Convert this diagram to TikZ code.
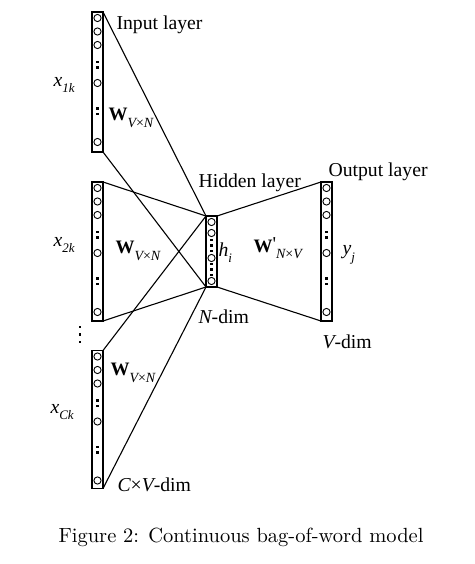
\documentclass[tikz,border=0pt]{standalone}
\usepackage{fontspec}
\newfontfamily\tnr{Liberation Serif}
\newfontfamily\capfont{lmroman10-regular}[Extension=.otf]
\newcommand\sbs[2][13]{\raisebox{-0.32em}{\fontsize{#1}{#1}\selectfont\itshape #2}}
\begin{document}
\begin{tikzpicture}[x=1pt,y=-1pt,line width=1.1pt,
  col/.style={draw,minimum width=11pt,inner sep=0pt,outer sep=0pt},
  lbl/.style={anchor=west,inner sep=0pt,font=\tnr\fontsize{19.7}{20}\selectfont},
  neuron/.style={line width=0.9pt}]
\useasboundingbox (0,0) rectangle (474,564);
% columns
\node[col,minimum height=140pt] (c1) at (97.5,82) {};
\node[col,minimum height=139pt] (c2) at (97.5,251.5) {};
\node[col,minimum height=138pt] (c3) at (97.5,419.5) {};
\node[col,minimum height=139pt] (out) at (326.5,251.5) {};
\node[col,minimum height=71pt] (h) at (211.5,251.5) {};
% neurons in long columns
\foreach \cx/\ty in {97.5/12,97.5/182,97.5/350.5,326.5/182}{
  \foreach \o in {6,19.5,33,71,130}{
    \draw[neuron] (\cx,\ty+\o) circle[radius=3.6];
  }
  \foreach \o in {50,55.5,96.5,102}{
    \fill (\cx-1.3,\ty+\o-1.3) rectangle (\cx+1.3,\ty+\o+1.3);
  }
}
% neurons in hidden column
\foreach \o in {222,233,258,281}{
  \draw[neuron] (211.5,\o) circle[radius=3.6];
}
\foreach \o in {240,245.5,251,264,269.5,275}{
  \fill (211.5-1.3,\o-1.3) rectangle (211.5+1.3,\o+1.3);
}
% vertical dots between inputs
\foreach \o in {327,334.5,342}{
  \fill (80-1.4,\o-1.4) rectangle (80+1.4,\o+1.4);
}
% connectors
\draw (c1.north east) -- (h.north west);
\draw (c1.south east) -- (h.south west);
\draw (c2.north east) -- (h.north west);
\draw (c2.south east) -- (h.south west);
\draw (c3.north east) -- (h.north west);
\draw (c3.south east) -- (h.south west);
\draw (h.north east) -- (out.north west);
\draw (h.south east) -- (out.south west);
% labels
\node[lbl] (tin) at (116,25) {Input layer};
\node[lbl] (thid) at (198,183) {Hidden layer};
\node[lbl] (tout) at (328,172) {Output layer};
\node[lbl] (x1) at (53,85) {\itshape x\sbs{1k}};
\node[lbl] (x2) at (53,245) {\itshape x\sbs{2k}};
\node[lbl] (x3) at (50,412) {\itshape x\sbs{Ck}};
\node[lbl] (w1) at (108,118) {{\fontsize{19}{19}\selectfont\bfseries W}\sbs[14]{V\upshape×\itshape N}};
\node[lbl] (w2) at (115,251) {{\fontsize{19}{19}\selectfont\bfseries W}\sbs[14]{V\upshape×\itshape N}};
\node[lbl] (w3) at (110,373) {{\fontsize{19}{19}\selectfont\bfseries W}\sbs[14]{V\upshape×\itshape N}};
\node[lbl] (wp) at (253,248) {{\fontsize{19}{19}\selectfont\bfseries W}\raisebox{0.1em}{'}\sbs[14]{N\upshape×\itshape V}};
\node[lbl] (hi) at (218,253) {\itshape h\sbs{i}};
\node[lbl] (yj) at (342,255) {\itshape y\sbs{j}};
\node[lbl] (nd) at (198,317) {{\itshape N}-dim};
\node[lbl] (vd) at (322,342) {{\itshape V}-dim};
\node[lbl] (cvd) at (117,485) {{\itshape C}×{\itshape V}-dim};
\node[inner sep=0pt,font=\capfont\fontsize{20.5}{21}\selectfont] (cap) at (241,537) {Figure 2: Continuous bag-of-word model};
\end{tikzpicture}
\end{document}
